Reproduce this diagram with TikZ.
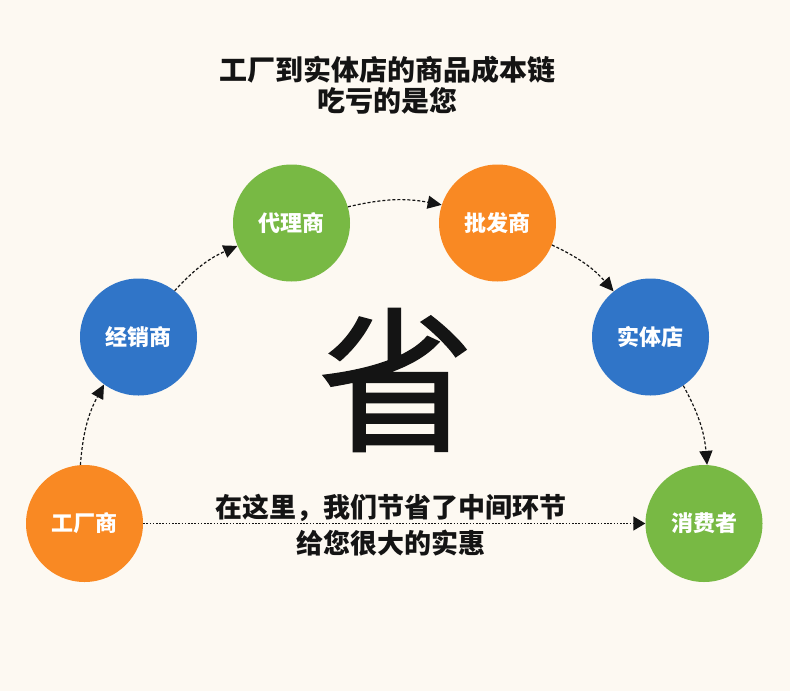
\documentclass[tikz,border=0pt]{standalone}
\usepackage{fontspec}
\newfontfamily\cjk{Noto Sans CJK SC}
\newfontfamily\cjkbig[FakeBold=1.2]{Noto Sans CJK SC}
\usetikzlibrary{arrows.meta}
\definecolor{bgc}{RGB}{253,249,242}
\definecolor{corange}{RGB}{249,137,35}
\definecolor{cblue}{RGB}{48,117,200}
\definecolor{cgreen}{RGB}{120,185,68}
\definecolor{ink}{RGB}{20,20,20}
\begin{document}
\begin{tikzpicture}[x=1pt,y=1pt,
  circ/.style={circle, minimum size=117pt, inner sep=0pt, text=white,
    font=\cjk\bfseries\fontsize{22}{22}\selectfont},
  flow/.style={draw=ink, line width=1.2pt, dash pattern=on 3pt off 2pt,
    -{Triangle[length=14pt,width=13pt]}},
  flat/.style={draw=ink, line width=1.4pt, dash pattern=on 1.6pt off 1.6pt,
    -{Triangle[length=12pt,width=14pt]}},
  caption/.style={align=center, text=ink, inner sep=0pt}]
\fill[bgc] (0,0) rectangle (790,-691);
\useasboundingbox (0,0) rectangle (790,-691);

\node[caption, font=\cjk\bfseries\fontsize{28}{31}\selectfont] (title) at (387,-85.5)
  {工厂到实体店的商品成本链\\吃亏的是您};

\node[circ, fill=corange] (f) at (84.5,-523.5) {工厂商};
\node[circ, fill=cblue]   (j) at (138.5,-337) {经销商};
\node[circ, fill=cgreen]  (d) at (291.5,-223) {代理商};
\node[circ, fill=corange] (p) at (497.5,-223) {批发商};
\node[circ, fill=cblue]   (s) at (650.5,-337) {实体店};
\node[circ, fill=cgreen]  (c) at (704,-523.5) {消费者};

\node[text=ink, inner sep=0pt, font=\cjkbig\fontsize{156}{156}\selectfont] (sheng) at (396,-380) {省};

\node[caption, font=\cjk\bfseries\fontsize{27}{36}\selectfont] (msg) at (391,-525)
  {在这里，我们节省了中间环节\\给您很大的实惠};

\draw[flow] (f.94) to[bend left=12] (j.234);
\draw[flow] (j.52) to[bend left=12] (d.203);
\draw[flow] (d.16) to[bend left=12] (p.162);
\draw[flow] (p.338) to[bend left=12] (s.129);
\draw[flow] (s.304) to[bend left=12] (c.87);
\draw[flat] (f.east) -- (c.west);
\end{tikzpicture}
\end{document}
